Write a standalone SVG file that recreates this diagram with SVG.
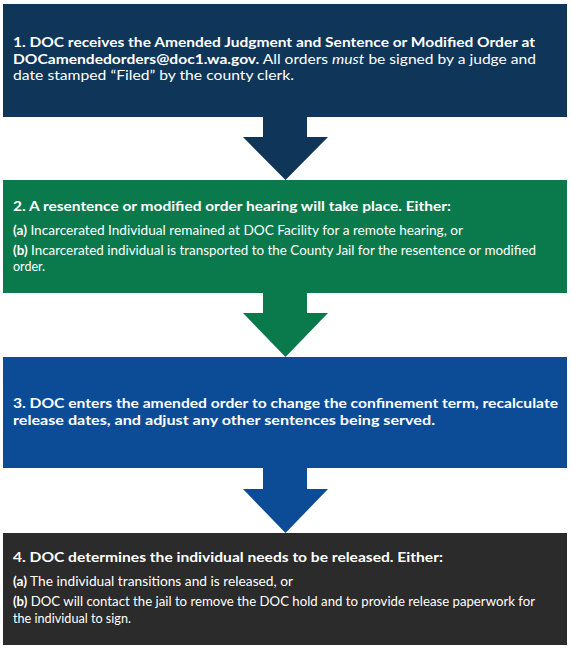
<svg xmlns="http://www.w3.org/2000/svg" width="572" height="650" viewBox="0 0 572 650">
<style>
text{font-family:Lato,"Liberation Sans",sans-serif;fill:#ffffff}
.t{font-size:14px;font-weight:bold}
.s{font-size:12.8px}
.b{font-weight:bold}
.i{font-style:italic}
</style>
<rect width="572" height="650" fill="#ffffff"/>
<g id="connectors">
<polygon points="263,117 307,117 307,137 328,137 285.5,180 243,137 263,137" fill="#0f3558"/>
<polygon points="263,293 307,293 307,313 328,313 285.5,357 243,313 263,313" fill="#0a7a4d"/>
<polygon points="263,468 307,468 307,489 328,489 285.5,533 243,489 263,489" fill="#0c4c97"/>
</g>
<g id="step1">
<rect x="3" y="4" width="564" height="113" fill="#0f3558"/>
<text class="t" x="13" y="47" textLength="522" lengthAdjust="spacingAndGlyphs">1. DOC receives the Amended Judgment and Sentence or Modified Order at</text>
<text class="t" x="13" y="63.5" textLength="523" lengthAdjust="spacingAndGlyphs"><tspan class="b">DOCamendedorders@doc1.wa.gov.</tspan><tspan font-weight="normal"> All orders </tspan><tspan font-weight="normal" class="i">must</tspan><tspan font-weight="normal"> be signed by a judge and</tspan></text>
<text class="t" x="13" y="80" style="font-weight:normal" textLength="281" lengthAdjust="spacingAndGlyphs">date stamped “Filed” by the county clerk.</text>
</g>
<g id="step2">
<rect x="3" y="180" width="564" height="113" fill="#0a7a4d"/>
<text class="t" x="13" y="211" textLength="438" lengthAdjust="spacingAndGlyphs">2. A resentence or modified order hearing will take place. Either:</text>
<text class="s" x="13" y="235" textLength="450" lengthAdjust="spacingAndGlyphs"><tspan class="b">(a)</tspan> Incarcerated Individual remained at DOC Facility for a remote hearing, or</text>
<text class="s" x="13" y="255" textLength="523" lengthAdjust="spacingAndGlyphs"><tspan class="b">(b)</tspan> Incarcerated individual is transported to the County Jail for the resentence or modified</text>
<text class="s" x="13" y="271" textLength="32" lengthAdjust="spacingAndGlyphs">order.</text>
</g>
<g id="step3">
<rect x="3" y="357" width="564" height="111" fill="#0c4c97"/>
<text class="t" x="13" y="408" textLength="545" lengthAdjust="spacingAndGlyphs">3. DOC enters the amended order to change the confinement term, recalculate</text>
<text class="t" x="13" y="424.5" textLength="422" lengthAdjust="spacingAndGlyphs">release dates, and adjust any other sentences being served.</text>
</g>
<g id="step4">
<rect x="3" y="533" width="564" height="112" fill="#2b2b2b"/>
<text class="t" x="13" y="562" textLength="430" lengthAdjust="spacingAndGlyphs">4. DOC determines the individual needs to be released. Either:</text>
<text class="s" x="13" y="586" textLength="280" lengthAdjust="spacingAndGlyphs"><tspan class="b">(a)</tspan> The individual transitions and is released, or</text>
<text class="s" x="13" y="606" textLength="522" lengthAdjust="spacingAndGlyphs"><tspan class="b">(b)</tspan> DOC will contact the jail to remove the DOC hold and to provide release paperwork for</text>
<text class="s" x="13" y="623" textLength="118" lengthAdjust="spacingAndGlyphs">the individual to sign.</text>
</g>
</svg>
